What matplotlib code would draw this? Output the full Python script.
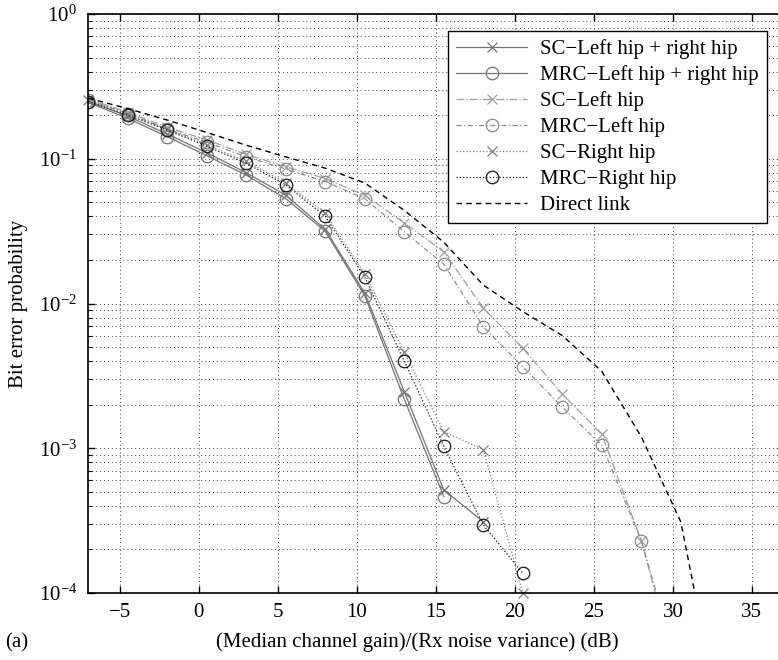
import numpy as np
import matplotlib
matplotlib.use("Agg")
import matplotlib.pyplot as plt
from matplotlib.ticker import LogLocator, NullFormatter, MultipleLocator

plt.rcParams["font.family"] = ["Liberation Serif", "DejaVu Serif"]
plt.rcParams["mathtext.fontset"] = "custom"
plt.rcParams["mathtext.rm"] = "Liberation Serif"
plt.rcParams["mathtext.it"] = "Liberation Serif:italic"
plt.rcParams["font.size"] = 15

# SNR grid (dB)
snr = np.array([-7, -4.5, -2, 0.5, 3, 5.5, 8, 10.5, 13, 15.5, 18, 20.5, 23, 25.5, 28, 30.5, 33])

# bit error probabilities per scheme
sc_both = [0.25, 0.197, 0.148, 0.11, 0.08, 0.056, 0.0325, 0.0118, 0.00246, 0.000515, 0.000311]
mrc_both = [0.245, 0.19, 0.142, 0.105, 0.077, 0.053, 0.0315, 0.0113, 0.00218, 0.000463]
sc_left = [0.258, 0.21, 0.165, 0.135, 0.107, 0.088, 0.073, 0.056, 0.036, 0.0228, 0.0093,
           0.0049, 0.00237, 0.00125, 0.00023, 2.2e-5]
mrc_left = [0.255, 0.205, 0.16, 0.13, 0.103, 0.085, 0.0695, 0.053, 0.0313, 0.0187, 0.0069,
            0.00366, 0.00192, 0.00105, 0.00023, 2.6e-5]
sc_right = [0.255, 0.205, 0.16, 0.125, 0.096, 0.068, 0.042, 0.016, 0.0046, 0.0013, 0.00098, 0.0001]
mrc_right = [0.248, 0.20, 0.158, 0.122, 0.093, 0.066, 0.040, 0.0152, 0.0040, 0.00103, 0.000295, 0.000137]
direct = [0.262, 0.222, 0.185, 0.152, 0.124, 0.103, 0.086, 0.068, 0.044, 0.0265, 0.0134,
          0.0088, 0.006, 0.0034, 0.0012, 0.00031, 1.3e-5]

MINUS = "\u2212"

fig = plt.figure(figsize=(7.78, 6.6), dpi=100)
ax = fig.add_axes([88.3 / 778, 67 / 660, (783.5 - 88.3) / 778, 579 / 660])

def curve(y, **kw):
    ax.plot(snr[:len(y)], y, **kw)

curve(sc_both, color="0.45", lw=0.9, ls="-", marker="x", ms=7, mew=0.9,
      label="SC" + MINUS + "Left hip + right hip")
curve(mrc_both, color="0.45", lw=0.9, ls="-", marker="o", ms=9, mew=0.9, fillstyle="none",
      label="MRC" + MINUS + "Left hip + right hip")
curve(sc_left, color="0.62", lw=0.9, ls="-.", marker="x", ms=7, mew=0.9,
      label="SC" + MINUS + "Left hip")
curve(mrc_left, color="0.55", lw=0.9, ls=(0, (4, 2, 1, 2)), marker="o", ms=9, mew=0.9,
      fillstyle="none", label="MRC" + MINUS + "Left hip")
curve(sc_right, color="0.5", lw=0.9, ls=":", marker="x", ms=7, mew=0.9, clip_on=False,
      label="SC" + MINUS + "Right hip")
curve(mrc_right, color="0.1", lw=0.9, ls=":", marker="o", ms=9, mew=0.9, fillstyle="none",
      label="MRC" + MINUS + "Right hip")
curve(direct, color="black", lw=1.0, ls=(0, (4, 3)), label="Direct link")

ax.set_yscale("log")
ax.set_xlim(-7, 37)
ax.set_ylim(1e-4, 1)
ax.xaxis.set_major_locator(MultipleLocator(5))
ax.yaxis.set_major_locator(LogLocator(base=10, numticks=10))
ax.yaxis.set_minor_locator(LogLocator(base=10, subs=np.arange(2, 10), numticks=10))
ax.yaxis.set_minor_formatter(NullFormatter())

grid_style = dict(color="0.25", lw=0.7, ls=(0, (1, 3)))
ax.grid(True, which="major", axis="both", **grid_style)
ax.grid(True, which="minor", axis="y", **grid_style)

ax.tick_params(which="both", direction="in", top=True, right=True)
ax.tick_params(which="major", length=5, width=1.0)
ax.tick_params(which="minor", length=3, width=0.8)
ax.tick_params(axis="y", pad=8)
ax.tick_params(axis="x", pad=7)
for s in ax.spines.values():
    s.set_linewidth(1.2)

ax.set_xlabel("(Median channel gain)/(Rx noise variance) (dB)")
ax.xaxis.set_label_coords(0.473, -0.067)
ax.set_ylabel("Bit error probability")
ax.yaxis.set_label_coords(-0.087, 0.5)
fig.text(5 / 778, 1 - 643 / 660, "(a)", va="center", ha="left")

leg = ax.legend(loc="upper right", bbox_to_anchor=(0.9758, 0.9712), borderaxespad=0,
                fancybox=False, framealpha=1, edgecolor="black", labelspacing=0.3,
                handlelength=3.4, handletextpad=0.6, borderpad=0.4)
leg.get_frame().set_linewidth(1.0)

fig.savefig("out.png", dpi=100)
